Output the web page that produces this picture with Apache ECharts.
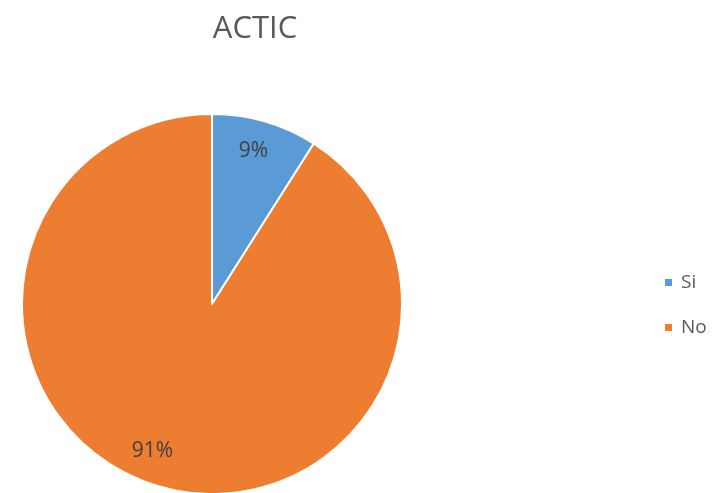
<!DOCTYPE html>
<html>
<head>
<meta charset="utf-8">
<style>
  html, body { margin: 0; padding: 0; background: #ffffff; }
  #chart { width: 726px; height: 493px; }
</style>
<script src="https://cdn.jsdelivr.net/npm/echarts@6/dist/echarts.min.js"></script>
</head>
<body>
<div id="chart"></div>
<script>
// ACTIC survey answers (share of respondents, %)
const categories = ['Si', 'No'];
const shares = [9, 91];
const sliceColors = ['#5B9BD5', '#ED7D31'];

const FONT = '"Open Sans", "Liberation Sans", sans-serif';
const CENTER = [212, 304];

const chart = echarts.init(document.getElementById('chart'), null, { renderer: 'canvas' });

const pieData = categories.map((name, i) => ({
  name: name,
  value: shares[i],
  itemStyle: { color: sliceColors[i] }
}));

// Transparent label ring showing the value label of one category only
function labelRing(index, innerRadius, padding) {
  return {
    type: 'pie',
    center: CENTER,
    radius: [innerRadius, 190],
    startAngle: 90,
    clockwise: true,
    silent: true,
    legendHoverLink: false,
    itemStyle: { color: 'rgba(0,0,0,0)', borderWidth: 0 },
    label: {
      show: true,
      position: 'inside',
      formatter: '{c}%',
      fontFamily: FONT,
      fontSize: 21,
      color: '#404040',
      padding: padding
    },
    labelLine: { show: false },
    data: categories.map((name, i) => ({
      name: name,
      value: shares[i],
      label: { show: i === index }
    }))
  };
}

chart.setOption({
  animation: false,
  backgroundColor: '#ffffff',
  title: {
    text: 'ACTIC',
    left: 250,
    top: 9,
    textAlign: 'center',
    textStyle: { fontFamily: FONT, fontSize: 31, fontWeight: 'normal', color: '#595959' }
  },
  legend: {
    orient: 'vertical',
    left: 658,
    top: 268,
    itemWidth: 9,
    itemHeight: 9,
    itemGap: 26,
    icon: 'rect',
    data: categories,
    textStyle: { fontFamily: FONT, fontSize: 19, color: '#595959', padding: [0, 0, 0, 3] }
  },
  series: [
    {
      type: 'pie',
      center: CENTER,
      radius: [0, 190],
      startAngle: 90,
      clockwise: true,
      silent: true,
      label: { show: false },
      labelLine: { show: false },
      itemStyle: { borderColor: '#ffffff', borderWidth: 2 },
      data: pieData
    },
    labelRing(0, 122, [0, 6, 0, 0]),
    labelRing(1, 110, [0, 34, 0, 0])
  ]
});
</script>
</body>
</html>
